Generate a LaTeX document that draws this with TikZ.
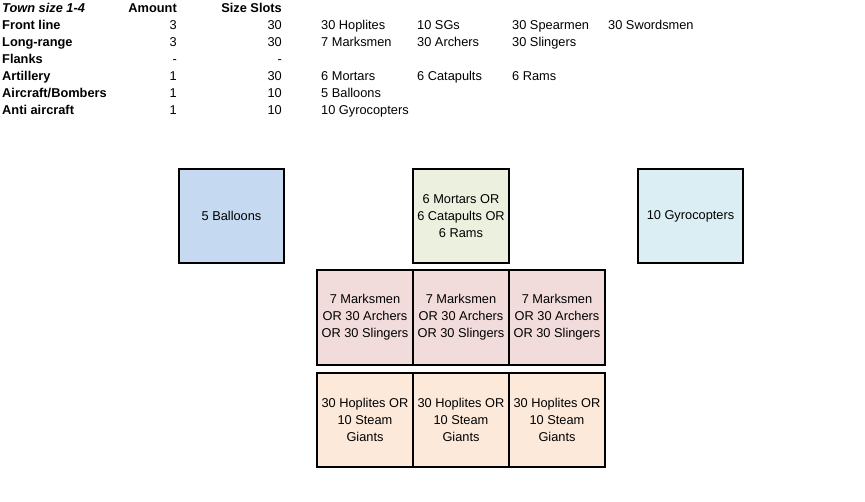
\documentclass[tikz,border=0pt]{standalone}
\usepackage{fontspec}
\setmainfont{Liberation Sans}
\definecolor{cblue}{HTML}{C5D9F1}
\definecolor{cgreen}{HTML}{EBF1DE}
\definecolor{ccyan}{HTML}{DAEEF3}
\definecolor{cpink}{HTML}{F2DCDB}
\definecolor{corange}{HTML}{FDE9D9}
\tikzset{
  unitbox/.style={draw=black, line width=2pt, inner sep=0pt, align=center,
    font=\fontsize{12.8}{17}\selectfont, text=black},
  tl/.style={anchor=base west, inner sep=0pt, font=\fontsize{12.8}{17}\selectfont, text=black},
  tr/.style={anchor=base east, inner sep=0pt, font=\fontsize{12.8}{17}\selectfont, text=black},
  hd/.style={font=\fontsize{12.8}{17}\selectfont\bfseries}
}
\begin{document}
\begin{tikzpicture}[x=1pt,y=-1pt]
\useasboundingbox[fill=white] (0,0) rectangle (865,502);
% table
\node[tl, font=\fontsize{12.8}{17}\selectfont\bfseries\itshape] (h1) at (2,13) {Town size 1-4};
\node[tr, hd] (h2) at (177,13) {Amount};
\node[tr, hd] (h3) at (282,13) {Size Slots};
\node[tl, hd] (r1) at (2,30) {Front line};
\node[tl, hd] (r2) at (2,47) {Long-range};
\node[tl, hd] (r3) at (2,64) {Flanks};
\node[tl, hd] (r4) at (2,81) {Artillery};
\node[tl, hd] (r5) at (2,98) {Aircraft/Bombers};
\node[tl, hd] (r6) at (2,115) {Anti aircraft};
\node[tr] (a1) at (177,30) {3};
\node[tr] (a2) at (177,47) {3};
\node[tr] (a3) at (177,64) {-};
\node[tr] (a4) at (177,81) {1};
\node[tr] (a5) at (177,98) {1};
\node[tr] (a6) at (177,115) {1};
\node[tr] (s1) at (282,30) {30};
\node[tr] (s2) at (282,47) {30};
\node[tr] (s3) at (282,64) {-};
\node[tr] (s4) at (282,81) {30};
\node[tr] (s5) at (282,98) {10};
\node[tr] (s6) at (282,115) {10};
\node[tl] (u11) at (321,30) {30 Hoplites};
\node[tl] (u12) at (417,30) {10 SGs};
\node[tl] (u13) at (512,30) {30 Spearmen};
\node[tl] (u14) at (608,30) {30 Swordsmen};
\node[tl] (u21) at (321,47) {7 Marksmen};
\node[tl] (u22) at (417,47) {30 Archers};
\node[tl] (u23) at (512,47) {30 Slingers};
\node[tl] (u41) at (321,81) {6 Mortars};
\node[tl] (u42) at (417,81) {6 Catapults};
\node[tl] (u43) at (512,81) {6 Rams};
\node[tl] (u51) at (321,98) {5 Balloons};
\node[tl] (u61) at (321,115) {10 Gyrocopters};
% boxes
\node[unitbox, fill=cblue, minimum width=105pt, minimum height=94pt] (balloons) at (231.5,216) {5 Balloons};
\node[unitbox, fill=cgreen, minimum width=96pt, minimum height=94pt] (artillery) at (461,216) {6 Mortars OR\\6 Catapults OR\\6 Rams};
\node[unitbox, fill=ccyan, minimum width=105pt, minimum height=94pt] (gyro) at (690.5,216) {10 Gyrocopters};
\node[unitbox, fill=cpink, minimum width=96pt, minimum height=95pt] (m1) at (365,317.5) {7 Marksmen\\OR 30 Archers\\OR 30 Slingers};
\node[unitbox, fill=cpink, minimum width=96pt, minimum height=95pt] (m2) at (461,317.5) {7 Marksmen\\OR 30 Archers\\OR 30 Slingers};
\node[unitbox, fill=cpink, minimum width=96pt, minimum height=95pt] (m3) at (557,317.5) {7 Marksmen\\OR 30 Archers\\OR 30 Slingers};
\node[unitbox, fill=corange, minimum width=96pt, minimum height=94pt] (f1) at (365,420) {30 Hoplites OR\\10 Steam\\Giants};
\node[unitbox, fill=corange, minimum width=96pt, minimum height=94pt] (f2) at (461,420) {30 Hoplites OR\\10 Steam\\Giants};
\node[unitbox, fill=corange, minimum width=96pt, minimum height=94pt] (f3) at (557,420) {30 Hoplites OR\\10 Steam\\Giants};
\end{tikzpicture}
\end{document}
